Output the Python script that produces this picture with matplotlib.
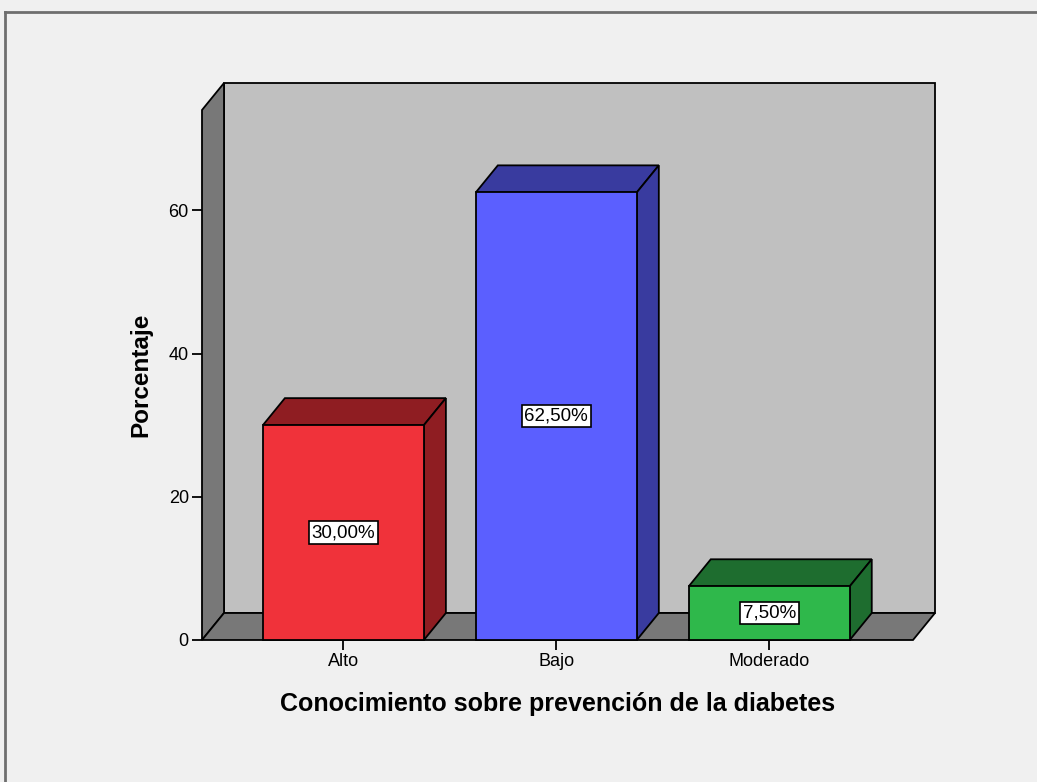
import matplotlib.pyplot as plt
from matplotlib.patches import Polygon
from matplotlib.lines import Line2D

categories = ["Alto", "Bajo", "Moderado"]
percentages = [30.0, 62.5, 7.5]
value_labels = ["30,00%", "62,50%", "7,50%"]
y_ticks = [0, 20, 40, 60]

front_colors = ["#f0323a", "#5b5fff", "#2fb84b"]
side_colors = ["#8f1d22", "#393b9f", "#1e6d2f"]

plt.rcParams["font.family"] = ["Liberation Sans", "DejaVu Sans"]

W, H = 1037, 782
fig = plt.figure(figsize=(W / 100, H / 100), dpi=100, facecolor="#f0f0f0")

# front plane of the chart box, in pixels
px0, px1, py0, py1 = 202, 913, 640, 110
ax = fig.add_axes([px0 / W, 1 - py0 / H, (px1 - px0) / W, (py0 - py1) / H])
ax.set_facecolor("none")

xmin, xmax = -0.664, 2.675
ymin, ymax = 0, 74
ax.set_xlim(xmin, xmax)
ax.set_ylim(ymin, ymax)

# depth offset for the 3D look (data units)
dx = 22 / (px1 - px0) * (xmax - xmin)
dy = 27 / (py0 - py1) * (ymax - ymin)

edge = dict(edgecolor="black", linewidth=1.3, clip_on=False)

# back wall, left wall, floor
ax.add_patch(Polygon([(xmin + dx, dy), (xmax + dx, dy), (xmax + dx, ymax + dy),
                      (xmin + dx, ymax + dy)], facecolor="#c0c0c0", zorder=1, **edge))
ax.add_patch(Polygon([(xmin, 0), (xmin + dx, dy), (xmin + dx, ymax + dy),
                      (xmin, ymax)], facecolor="#787878", zorder=2, **edge))
ax.add_patch(Polygon([(xmin, 0), (xmax, 0), (xmax + dx, dy), (xmin + dx, dy)],
                     facecolor="#787878", zorder=2, **edge))

bar_w = 0.756
for i, (val, lab) in enumerate(zip(percentages, value_labels)):
    l, r = i - bar_w / 2, i + bar_w / 2
    ax.add_patch(Polygon([(l, val), (r, val), (r + dx, val + dy), (l + dx, val + dy)],
                         facecolor=side_colors[i], zorder=3, **edge))
    ax.add_patch(Polygon([(r, 0), (r + dx, dy), (r + dx, val + dy), (r, val)],
                         facecolor=side_colors[i], zorder=3, **edge))
    ax.add_patch(Polygon([(l, 0), (r, 0), (r, val), (l, val)],
                         facecolor=front_colors[i], zorder=4, **edge))
    ax.text(i, val / 2, lab, ha="center", va="center", fontsize=13.5, zorder=5,
            bbox=dict(boxstyle="square,pad=0.15", facecolor="white",
                      edgecolor="black", linewidth=1.2))

for s in ["top", "right", "left", "bottom"]:
    ax.spines[s].set_visible(False)

ax.set_xticks(range(len(categories)))
ax.set_xticklabels(categories)
ax.set_yticks(y_ticks)
ax.tick_params(axis="both", direction="out", length=7.5, width=1.3,
               labelsize=13, colors="black", pad=2)

ax.set_ylabel("Porcentaje", fontsize=17.5, fontweight="bold", labelpad=12)
ax.set_xlabel("Conocimiento sobre prevención de la diabetes", fontsize=18,
              fontweight="bold", labelpad=16)

# outer frame (top and left edges)
fig.add_artist(Line2D([5 / W, 5 / W], [0, 1 - 12 / H], transform=fig.transFigure,
                      color="#6e6e6e", linewidth=2))
fig.add_artist(Line2D([5 / W, 1], [1 - 12 / H, 1 - 12 / H], transform=fig.transFigure,
                      color="#6e6e6e", linewidth=2))

fig.savefig("out.png", dpi=100, facecolor=fig.get_facecolor())
